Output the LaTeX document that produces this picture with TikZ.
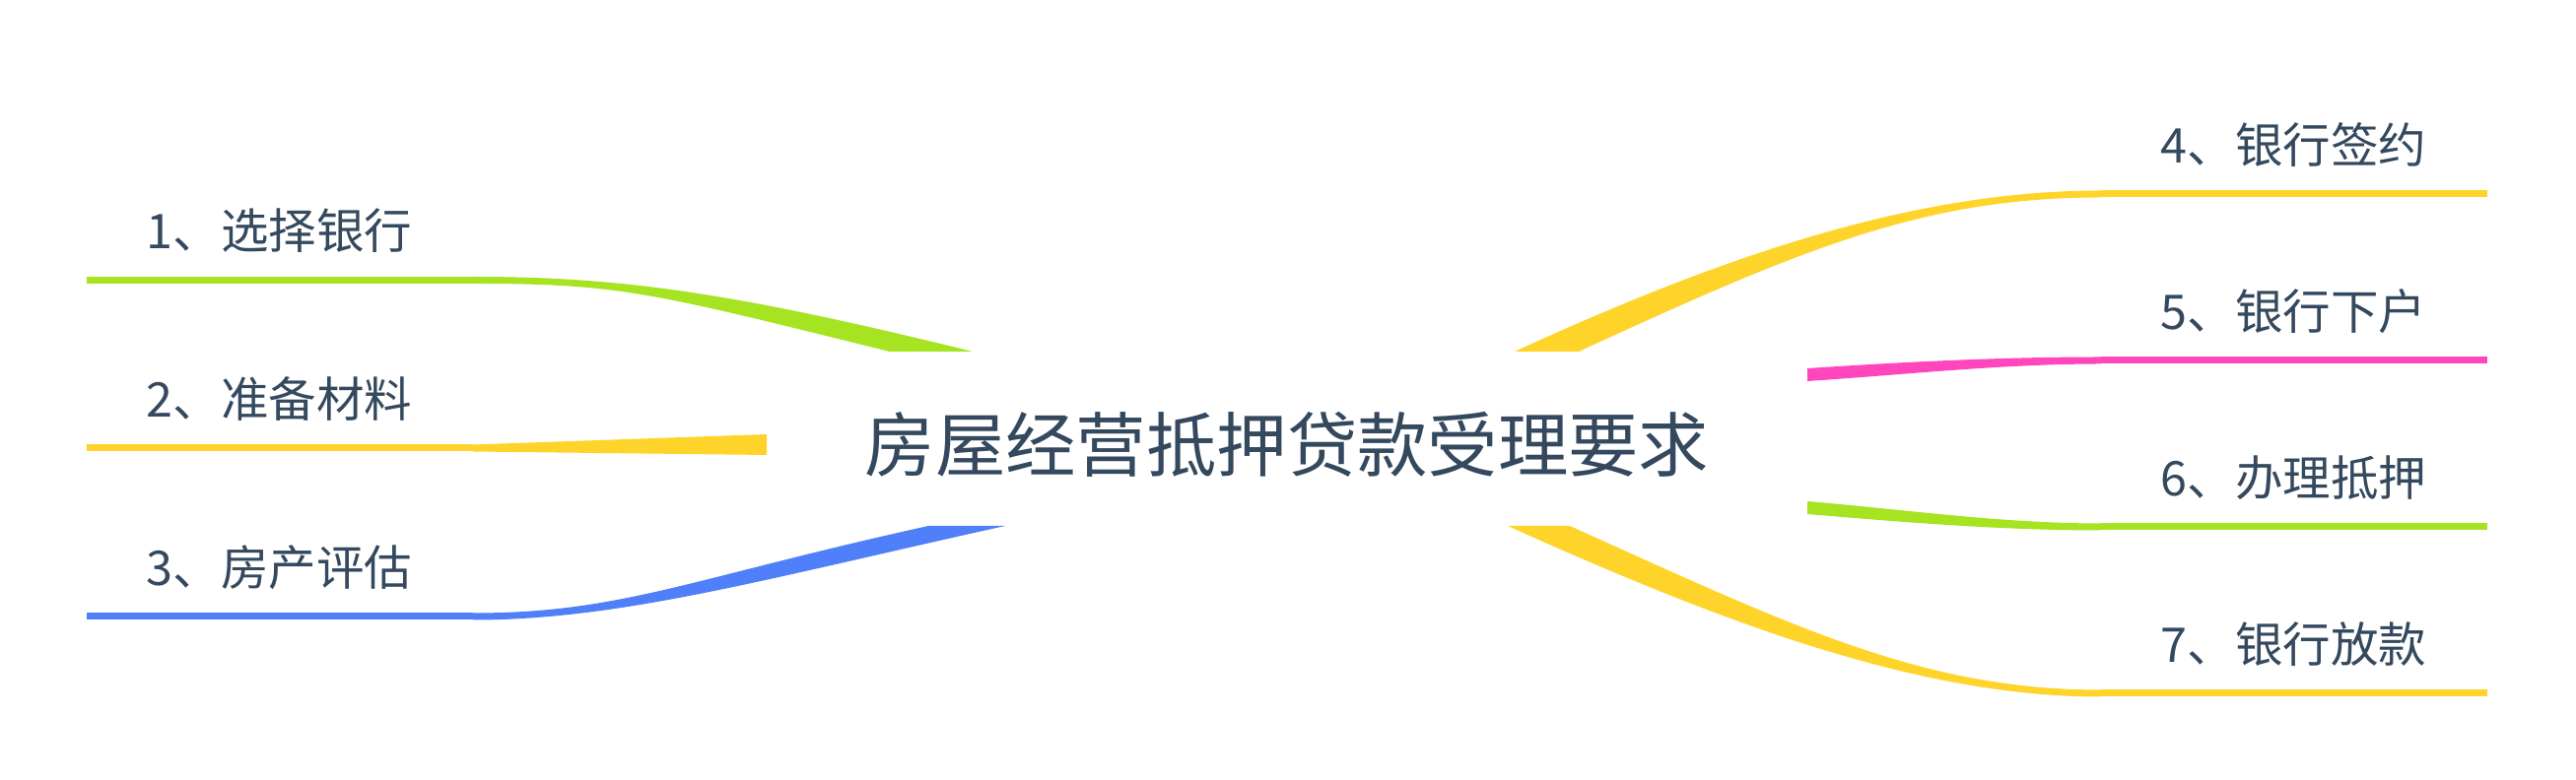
\documentclass[tikz,border=0pt]{standalone}
\usepackage{fontspec}
\setmainfont{Noto Sans CJK SC}
\usepackage{xcolor}
\usepackage{tikz}
\usetikzlibrary{calc, positioning}
\definecolor{inkblue}{HTML}{34495E}
\definecolor{limegreen}{HTML}{A6E422}
\definecolor{sunyellow}{HTML}{FFD42A}
\definecolor{skyblue}{HTML}{4F7FF9}
\definecolor{hotpink}{HTML}{FF46BC}
\tikzstyle{root} = [inner sep=0pt, text=inkblue, font=\fontsize{20.3pt}{24pt}\selectfont]
\tikzstyle{leaf} = [inner sep=0pt, anchor=west, text=inkblue, font=\fontsize{13.8pt}{16pt}\selectfont]
\tikzstyle{twig} = [line width=0.07cm]

\begin{document}
\begin{tikzpicture}[x=0.01cm, y=-0.01cm]
    \useasboundingbox (0,0) rectangle (2614,792);

    % Central topic
    \node[root] (root) at (1306,451) {房屋经营抵押贷款受理要求};

    % Branch lines (outer end a, inner end b) and ribbon tips e
    \coordinate (a1) at (88,284.5);   \coordinate (b1) at (480,284.5);  \coordinate (e1) at (945,357);
    \coordinate (a2) at (88,455);     \coordinate (b2) at (480,455);    \coordinate (e2) at (778,451.5);
    \coordinate (a3) at (88,626);     \coordinate (b3) at (480,626);    \coordinate (e3) at (981,534);
    \coordinate (a4) at (2524,197);   \coordinate (b4) at (2132,197);   \coordinate (e4) at (1569.5,357);
    \coordinate (a5) at (2524,366);   \coordinate (b5) at (2132,366);   \coordinate (e5) at (1834,380.5);
    \coordinate (a6) at (2524,535);   \coordinate (b6) at (2132,535);   \coordinate (e6) at (1834,515.5);
    \coordinate (a7) at (2524,704);   \coordinate (b7) at (2132,704);   \coordinate (e7) at (1561.5,534);

    % Left branches
    \draw[twig, limegreen] (a1) -- (b1);
    \fill[limegreen] ($(b1)+(0,-3.5)$) .. controls +(150,0) and +(-243,-60) .. ($(e1)+(42,0)$)
        -- ($(e1)+(-42,0)$) .. controls +(-243,-60) and +(150,0) .. ($(b1)+(0,3.5)$) -- cycle;
    \node[leaf] (t1) at ($(a1)+(60,-50)$) {1、选择银行};

    \draw[twig, sunyellow] (a2) -- (b2);
    \fill[sunyellow] ($(b2)+(0,-3.5)$) -- ($(e2)+(0,-10.5)$) -- ($(e2)+(0,10.5)$) -- ($(b2)+(0,3.5)$) -- cycle;
    \node[leaf] (t2) at ($(a2)+(60,-50)$) {2、准备材料};

    \draw[twig, skyblue] (a3) -- (b3);
    \fill[skyblue] ($(b3)+(0,-3.5)$) .. controls +(150,0) and +(-244,54) .. ($(e3)+(-39,0)$)
        -- ($(e3)+(39,0)$) .. controls +(-244,54) and +(150,0) .. ($(b3)+(0,3.5)$) -- cycle;
    \node[leaf] (t3) at ($(a3)+(60,-50)$) {3、房产评估};

    % Right branches
    \draw[twig, sunyellow] (b4) -- (a4);
    \fill[sunyellow] ($(b4)+(0,-3.5)$) .. controls +(-180,0) and +(227,-104.5) .. ($(e4)+(-32.5,0)$)
        -- ($(e4)+(32.5,0)$) .. controls +(227,-104.5) and +(-180,0) .. ($(b4)+(0,3.5)$) -- cycle;
    \node[leaf] (t4) at ($(b4)+(60,-50)$) {4、银行签约};

    \draw[twig, hotpink] (b5) -- (a5);
    \fill[hotpink] ($(b5)+(0,-3.5)$) .. controls +(-100,0) and +(100,-6.6) .. ($(e5)+(0,-6.5)$)
        -- ($(e5)+(0,6.5)$) .. controls +(100,-6.6) and +(-100,0) .. ($(b5)+(0,3.5)$) -- cycle;
    \node[leaf] (t5) at ($(b5)+(60,-50)$) {5、银行下户};

    \draw[twig, limegreen] (b6) -- (a6);
    \fill[limegreen] ($(b6)+(0,-3.5)$) .. controls +(-100,0) and +(100,8.5) .. ($(e6)+(0,-6.5)$)
        -- ($(e6)+(0,6.5)$) .. controls +(100,8.5) and +(-100,0) .. ($(b6)+(0,3.5)$) -- cycle;
    \node[leaf] (t6) at ($(b6)+(60,-50)$) {6、办理抵押};

    \draw[twig, sunyellow] (b7) -- (a7);
    \fill[sunyellow] ($(b7)+(0,-3.5)$) .. controls +(-180,0) and +(228,103) .. ($(e7)+(31.5,0)$)
        -- ($(e7)+(-31.5,0)$) .. controls +(228,103) and +(-180,0) .. ($(b7)+(0,3.5)$) -- cycle;
    \node[leaf] (t7) at ($(b7)+(60,-50)$) {7、银行放款};

\end{tikzpicture}
\end{document}
